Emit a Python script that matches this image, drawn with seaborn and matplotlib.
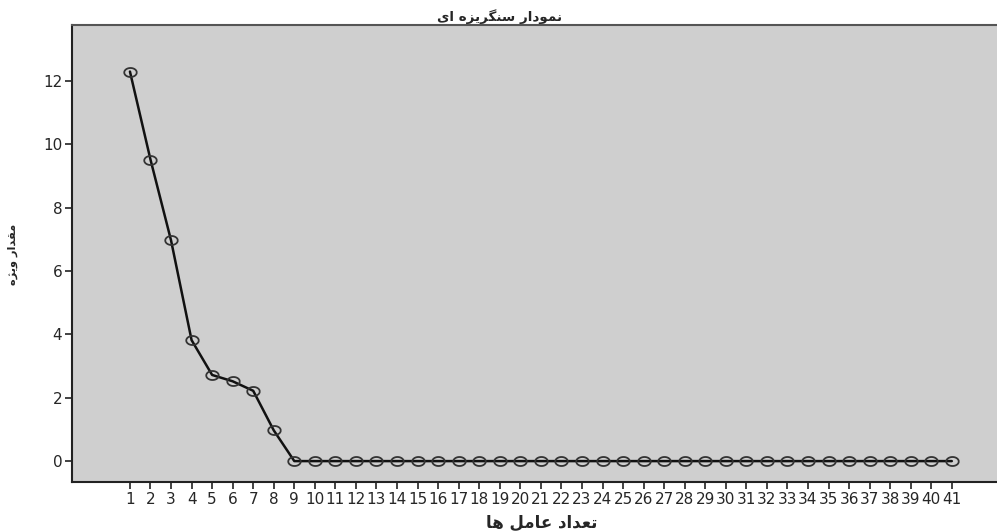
import matplotlib
matplotlib.use("Agg")
import matplotlib.pyplot as plt
from matplotlib.path import Path
import seaborn as sns
import pandas as pd
import numpy as np

# Data
factors = list(range(1, 42))
eigenvalues = [12.3, 9.52, 6.97, 3.82, 2.72, 2.52, 2.22, 0.97] + [0.0] * 33
tick_labels = [str(f) for f in factors]

# Persian texts (presentation forms, logical order; reversed for LTR drawing)
title_logical = "\uFEE7\uFEE4\uFEEE\uFEA9\uFE8D\uFEAD \uFEB3\uFEE8\uFB95\uFEAE\uFBFE\uFEB0\uFEE9 \uFE8D\uFBFC"
ylabel_logical = "\uFEE3\uFED8\uFEAA\uFE8D\uFEAD \uFEED\uFBFE\uFB8B\uFEE9"
xlabel_logical = "\uFE97\uFECC\uFEAA\uFE8D\uFEA9 \uFECB\uFE8E\uFEE3\uFEDE \uFEEB\uFE8E"
title_text = title_logical[::-1]
ylabel_text = ylabel_logical[::-1]
xlabel_text = xlabel_logical[::-1]

df = pd.DataFrame({"factor": factors, "eigen": eigenvalues})

sns.set_style("ticks")
plt.rcParams['font.family'] = ['DejaVu Sans']

# elliptical open marker (wider than tall)
t = np.linspace(0, 2 * np.pi, 49)
ellipse = Path(np.column_stack([np.cos(t), 0.72 * np.sin(t)]))

fig = plt.figure(figsize=(9.97, 5.31), dpi=100)
ax = fig.add_axes([72 / 997, 1 - 482 / 531, 1 - 72 / 997, (482 - 25) / 531])
ax.set_facecolor("#cfcfcf")

sns.lineplot(data=df, x="factor", y="eigen", ax=ax, color="#111111", linewidth=1.8,
             marker=ellipse, markersize=9, markerfacecolor="none",
             markeredgecolor="#333333", markeredgewidth=1.3)

ax.set_xlim(-1.82, 43.2)
ax.set_ylim(-0.66, 13.77)
ax.set_xticks(factors)
ax.set_xticklabels(tick_labels, fontsize=11)
ax.set_yticks([0, 2, 4, 6, 8, 10, 12])
ax.set_yticklabels(["0", "2", "4", "6", "8", "10", "12"], fontsize=11)
ax.tick_params(axis="both", direction="out", length=5, width=1.2, color="#222222", pad=2)
ax.set_xlabel("")
ax.set_ylabel("")

for s in ["left", "bottom"]:
    ax.spines[s].set_color("#222222")
    ax.spines[s].set_linewidth(1.5)
ax.spines["top"].set_visible(True)
ax.spines["top"].set_color("#555555")
ax.spines["top"].set_linewidth(1.5)
ax.spines["right"].set_visible(False)

fig.text(500 / 997, 1 - 17 / 531, title_text, ha="center", va="center",
         fontsize=9.7, fontweight="bold")
fig.text(542 / 997, 1 - 523 / 531, xlabel_text, ha="center", va="center",
         fontsize=12, fontweight="bold")
fig.text(13 / 997, 1 - 254 / 531, ylabel_text, ha="center", va="center", rotation=90,
         fontsize=8.2, fontweight="bold")

fig.savefig("out.png", dpi=100)
